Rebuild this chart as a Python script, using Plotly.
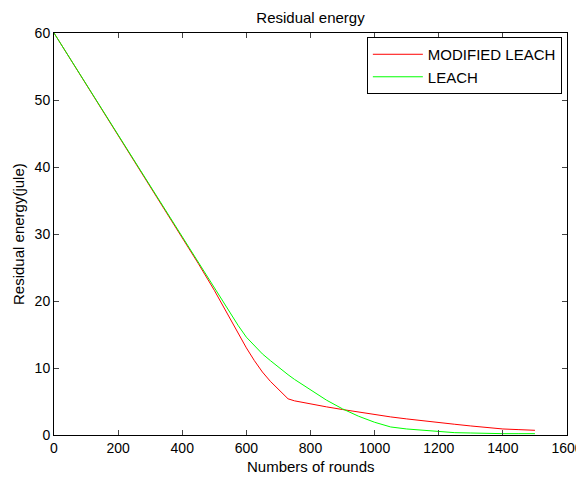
import plotly.graph_objects as go

rounds = [0, 50, 100, 150, 200, 250, 300, 350, 400, 450, 500, 525, 550, 575, 600, 625, 650, 675,
          700, 730, 750, 800, 850, 900, 950, 1000, 1050, 1100, 1150, 1200, 1250, 1300, 1350,
          1400, 1450, 1500]
modified_leach = [60, 56.2, 52.4, 48.6, 44.8, 41.0, 37.2, 33.4, 29.6, 25.6, 21.6, 19.4, 17.2, 15.1,
                  13.0, 11.1, 9.4, 8.0, 6.8, 5.4, 5.1, 4.6, 4.2, 3.8, 3.4, 3.0, 2.7, 2.4, 2.1, 1.8,
                  1.6, 1.35, 1.1, 0.9, 0.8, 0.7]
leach = [60, 56.2, 52.4, 48.6, 44.8, 41.0, 37.2, 33.4, 29.6, 25.7, 21.9, 20.1, 18.2, 16.3,
         14.6, 13.3, 12.1, 11.1, 10.1, 9.0, 8.3, 6.7, 5.2, 3.9, 2.8, 1.9, 1.2, 0.9, 0.7, 0.5,
         0.35, 0.3, 0.2, 0.2, 0.2, 0.2]

x_ticks = [0, 200, 400, 600, 800, 1000, 1200, 1400, 1600]
y_ticks = [0, 10, 20, 30, 40, 50, 60]

fig = go.Figure()
fig.add_trace(go.Scatter(x=rounds, y=modified_leach, mode="lines", name="MODIFIED LEACH",
                         line=dict(color="#ff0000", width=1)))
fig.add_trace(go.Scatter(x=rounds, y=leach, mode="lines", name="LEACH",
                         line=dict(color="#00ff00", width=1)))

font = "Liberation Sans, Arial, sans-serif"
# the page body has an 8px margin, so the figure is drawn 8px smaller and offset
W, H = 576, 471
L, R, T, B = 46, 17, 25, 44
PW, PH = W - L - R, H - T - B
fig.update_layout(
    width=W, height=H,
    margin=dict(l=L, r=R, t=T, b=B, autoexpand=False),
    paper_bgcolor="white", plot_bgcolor="white",
    font=dict(family=font, size=14, color="black"),
    title=dict(text="Residual energy", x=0.5, xref="paper", xanchor="center",
               y=1 - 9.5 / H, yref="container", yanchor="middle",
               font=dict(size=15, family=font)),
    showlegend=True,
    legend=dict(x=0.990, y=0.990, xanchor="right", yanchor="top",
                bgcolor="white", bordercolor="black", borderwidth=1,
                font=dict(size=15, family=font), itemwidth=50,
                tracegroupgap=0),
    xaxis=dict(range=[0, 1600], tickvals=x_ticks, ticks="inside", ticklen=5,
               showline=True, linecolor="black", linewidth=1, mirror="ticks",
               showgrid=False, zeroline=False, tickfont=dict(size=14), automargin=False),
    yaxis=dict(range=[0, 60], tickvals=y_ticks, ticks="inside", ticklen=5,
               showline=True, linecolor="black", linewidth=1, mirror="ticks",
               showgrid=False, zeroline=False, tickfont=dict(size=14), automargin=False),
    annotations=[
        dict(text="Numbers of rounds", xref="paper", yref="paper", x=0.5,
             y=-(458 - (H - B)) / PH, xanchor="center", yanchor="middle",
             showarrow=False, font=dict(size=15, family=font)),
        dict(text="Residual energy(jule)", xref="paper", yref="paper",
             x=-(L - 10) / PW, y=0.5, xanchor="center", yanchor="middle",
             textangle=-90, showarrow=False, font=dict(size=15, family=font)),
    ],
)

fig.write_html("out.html")
